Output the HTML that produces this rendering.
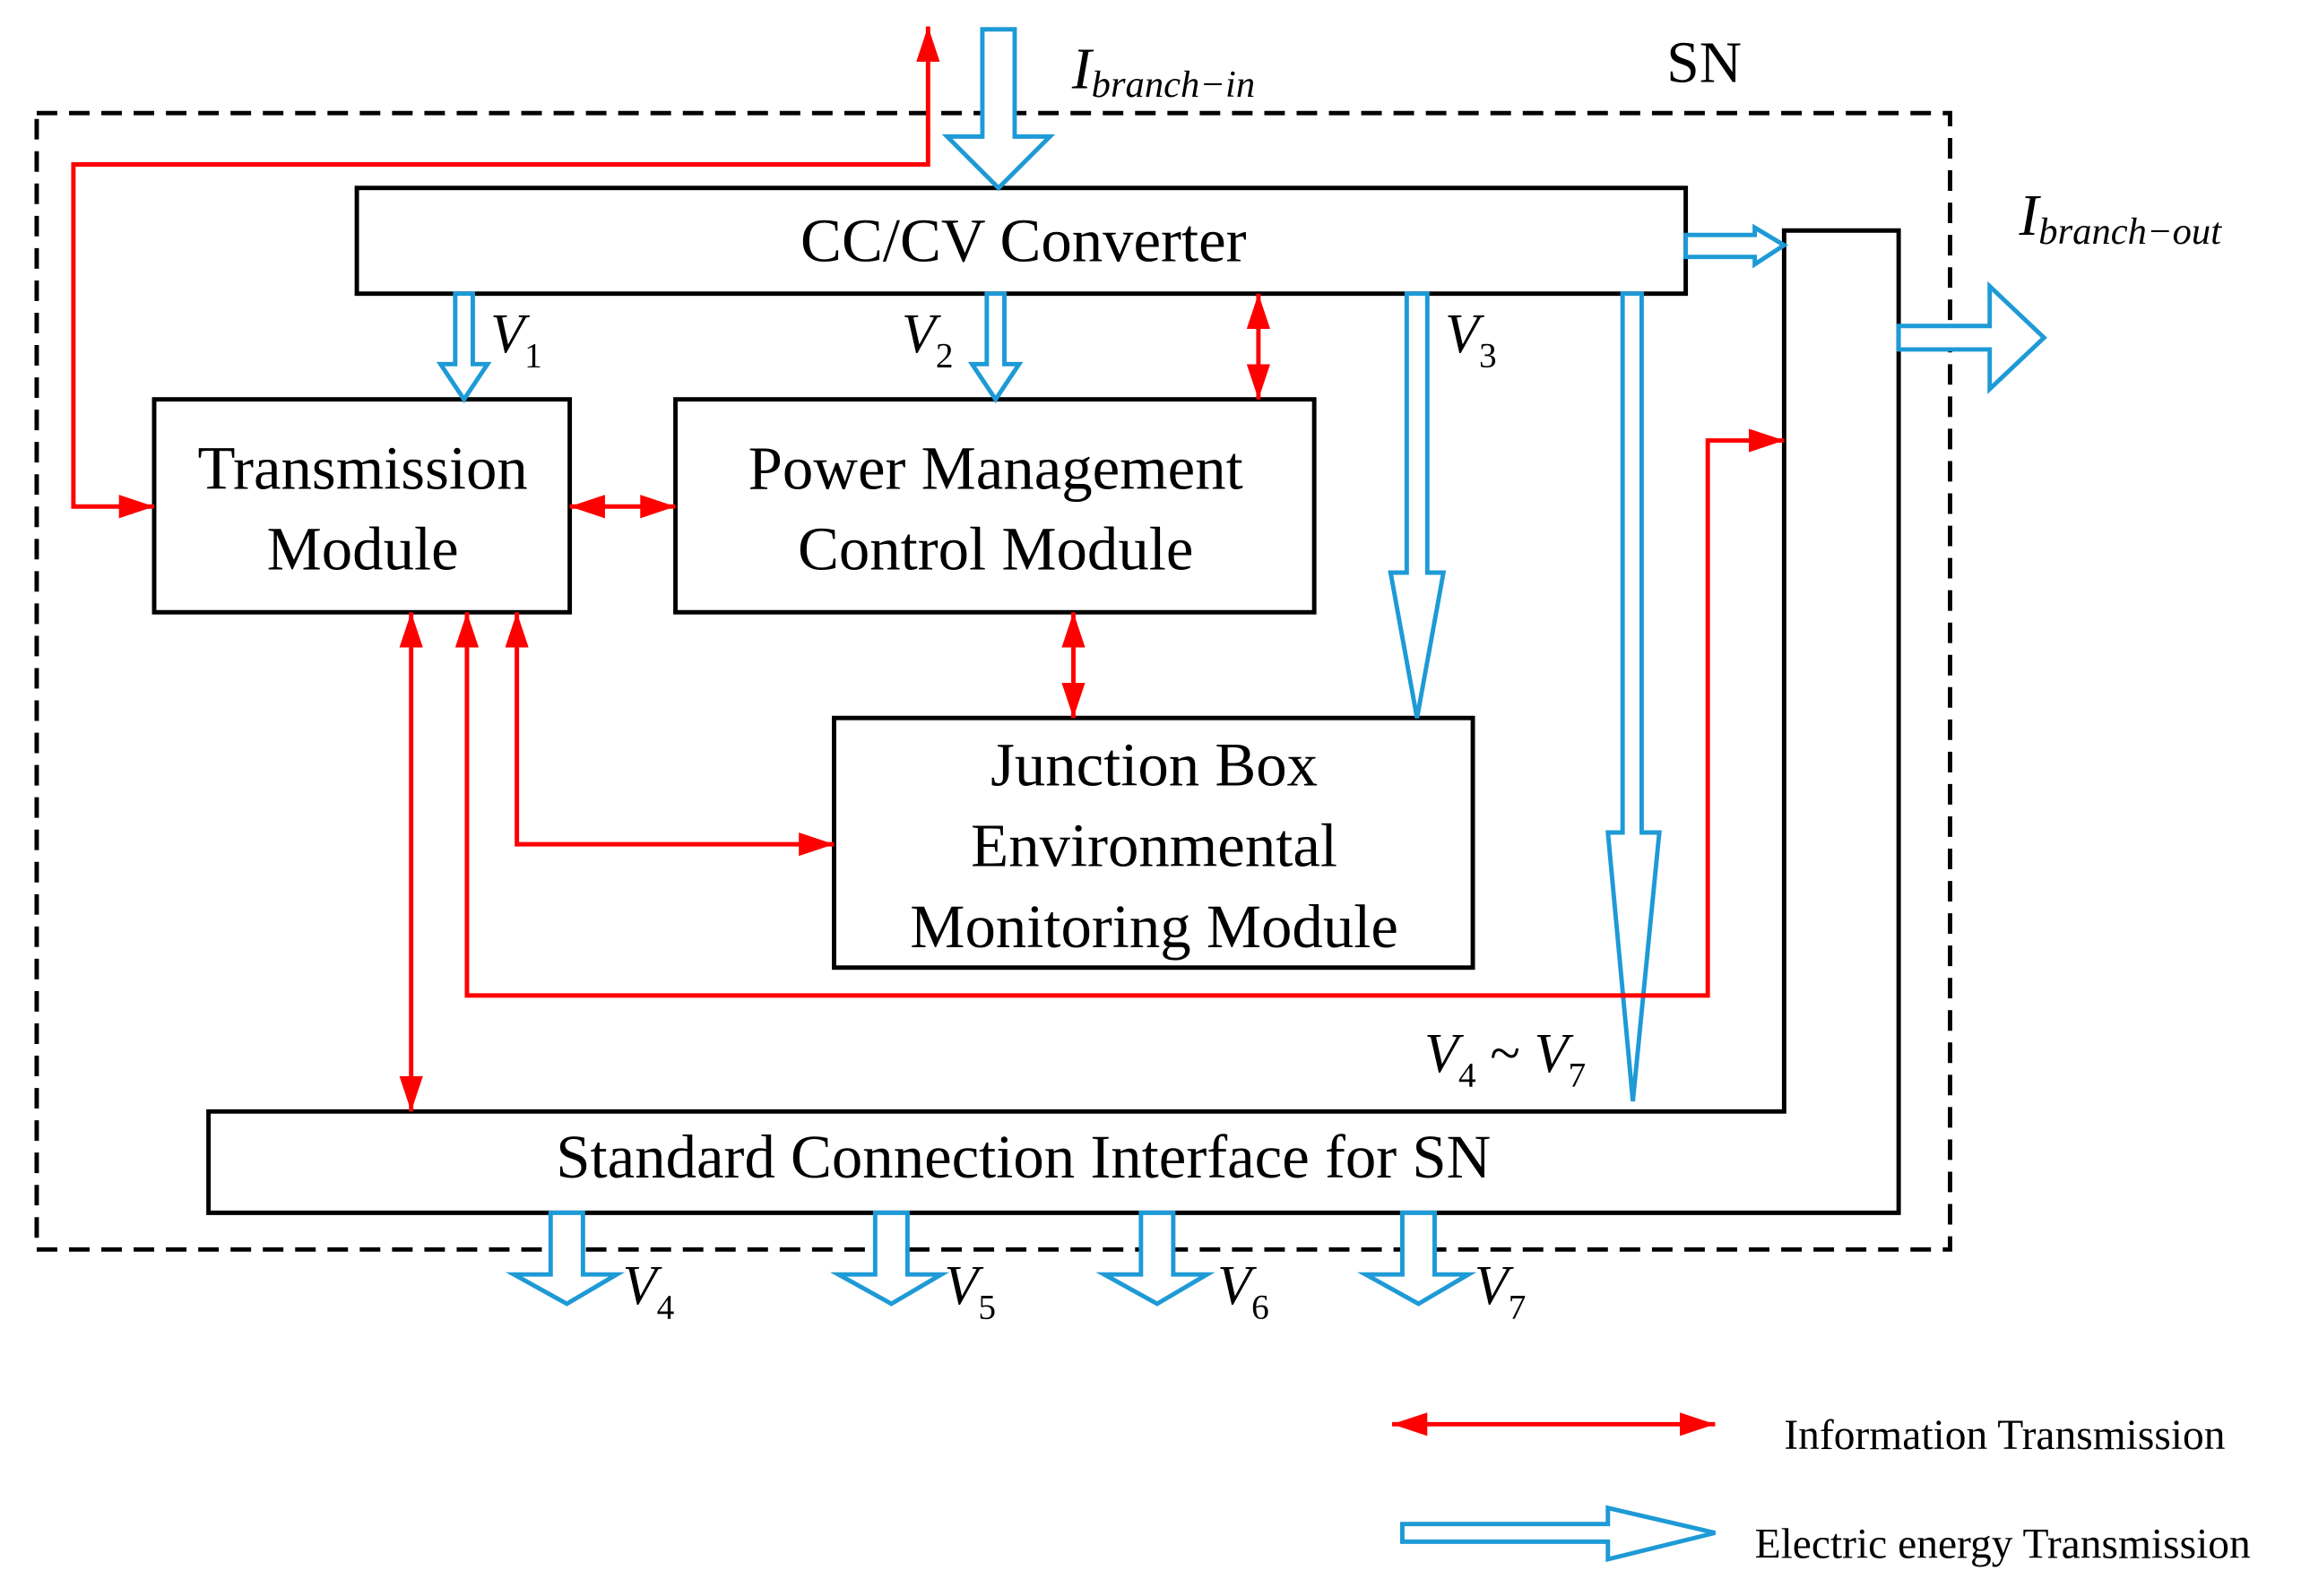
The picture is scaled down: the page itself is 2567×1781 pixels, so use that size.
<!DOCTYPE html>
<html><head><meta charset="utf-8"><style>
html,body{margin:0;padding:0;background:#fff;}
svg{display:block;}
text{font-family:"Liberation Serif",serif;fill:#000;}
.it{font-style:italic;}
</style></head><body>
<svg width="2567" height="1781" viewBox="0 0 1567 1087" preserveAspectRatio="none" xmlns="http://www.w3.org/2000/svg">
<defs>
<marker id="ah" viewBox="0 0 24 16" refX="24" refY="8" markerWidth="24" markerHeight="16" markerUnits="userSpaceOnUse" orient="auto-start-reverse">
<path d="M0,0 L24,8 L0,16 Z" fill="#ff0000"/></marker>
</defs>
<rect x="25" y="77" width="1303" height="774" fill="none" stroke="#000" stroke-width="3" stroke-dasharray="14,8"/>
<text x="1135" y="56" font-size="40">SN</text>

<rect x="243" y="128" width="905" height="72" fill="#fff" stroke="#000" stroke-width="3"/>
<text x="697" y="178" font-size="42" text-anchor="middle">CC/CV Converter</text>
<rect x="105" y="272" width="283" height="145" fill="#fff" stroke="#000" stroke-width="3"/>
<text x="247" y="333" font-size="42" text-anchor="middle">Transmission</text>
<text x="247" y="388" font-size="42" text-anchor="middle">Module</text>
<rect x="460" y="272" width="435" height="145" fill="#fff" stroke="#000" stroke-width="3"/>
<text x="678" y="333" font-size="42" text-anchor="middle">Power Management</text>
<text x="678" y="388" font-size="42" text-anchor="middle">Control Module</text>
<rect x="568" y="489" width="435" height="170" fill="#fff" stroke="#000" stroke-width="3"/>
<text x="786" y="535" font-size="42" text-anchor="middle">Junction Box</text>
<text x="786" y="590" font-size="42" text-anchor="middle">Environmental</text>
<text x="786" y="645" font-size="42" text-anchor="middle">Monitoring Module</text>
<path d="M142 757 H1215 V157 H1293 V826 H142 Z" fill="#fff" stroke="#000" stroke-width="3"/>
<text x="697" y="802" font-size="42" text-anchor="middle">Standard Connection Interface for SN</text>

<g fill="#fff" stroke="#1e9ad6" stroke-width="3" stroke-linejoin="miter">
<polygon points="669,20 691,20 691,93 715,93 680,128 645,93 669,93"/>
<polygon points="310,200 322,200 322,248 332,248 316,272 300,248 310,248"/>
<polygon points="672,200 684,200 684,248 694,248 678,272 662,248 672,248"/>
<polygon points="958,200 972,200 972,390 983,390 965,489 947,390 958,390"/>
<polygon points="1105,200 1118,200 1118,567 1130,567 1112,750 1095,567 1105,567"/>
<polygon points="1148,160 1195,160 1195,155 1215,167 1195,180 1195,175 1148,175"/>
<polygon points="1293,222 1355,222 1355,195 1392,230 1355,265 1355,238 1293,238"/>
<polygon points="375,826 397,826 397,868 420,868 386,888 350,868 375,868"/>
<polygon points="596,826 618,826 618,868 641,868 607,888 571,868 596,868"/>
<polygon points="777,826 799,826 799,868 822,868 788,888 752,868 777,868"/>
<polygon points="955,826 977,826 977,868 1000,868 966,888 930,868 955,868"/>
<polygon points="955,1038 1095,1038 1095,1027 1168,1044 1095,1062 1095,1050 955,1050"/>
</g>

<g fill="none" stroke="#ff0000" stroke-width="3">
<path d="M105 345 H50 V112 H632 V18" marker-start="url(#ah)" marker-end="url(#ah)"/>
<path d="M388 345 H460" marker-start="url(#ah)" marker-end="url(#ah)"/>
<path d="M857 200 V272" marker-start="url(#ah)" marker-end="url(#ah)"/>
<path d="M731 417 V489" marker-start="url(#ah)" marker-end="url(#ah)"/>
<path d="M352 417 V575 H568" marker-start="url(#ah)" marker-end="url(#ah)"/>
<path d="M318 417 V678 H1163 V300 H1215" marker-start="url(#ah)" marker-end="url(#ah)"/>
<path d="M280 417 V757" marker-start="url(#ah)" marker-end="url(#ah)"/>
<path d="M948 970 H1168" marker-start="url(#ah)" marker-end="url(#ah)"/>
</g>

<text x="730" y="60" font-size="40" class="it">I<tspan font-size="26" dy="6">branch−in</tspan></text>
<text x="1375" y="160" font-size="40" class="it">I<tspan font-size="26" dy="6">branch−out</tspan></text>
<text x="334" y="240" font-size="38" class="it">V<tspan font-size="24" dy="10" font-style="normal">1</tspan></text>
<text x="614" y="240" font-size="38" class="it">V<tspan font-size="24" dy="10" font-style="normal">2</tspan></text>
<text x="984" y="240" font-size="38" class="it">V<tspan font-size="24" dy="10" font-style="normal">3</tspan></text>
<text x="970" y="730" font-size="38" class="it">V<tspan font-size="24" dy="10" font-style="normal">4</tspan><tspan dy="-10" font-style="normal"> ~ </tspan>V<tspan font-size="24" dy="10" font-style="normal">7</tspan></text>
<text x="424" y="888" font-size="38" class="it">V<tspan font-size="24" dy="10" font-style="normal">4</tspan></text>
<text x="643" y="888" font-size="38" class="it">V<tspan font-size="24" dy="10" font-style="normal">5</tspan></text>
<text x="829" y="888" font-size="38" class="it">V<tspan font-size="24" dy="10" font-style="normal">6</tspan></text>
<text x="1004" y="888" font-size="38" class="it">V<tspan font-size="24" dy="10" font-style="normal">7</tspan></text>
<text x="1215" y="987" font-size="29">Information Transmission</text>
<text x="1195" y="1061" font-size="29">Electric energy Transmission</text>
</svg>
</body></html>
